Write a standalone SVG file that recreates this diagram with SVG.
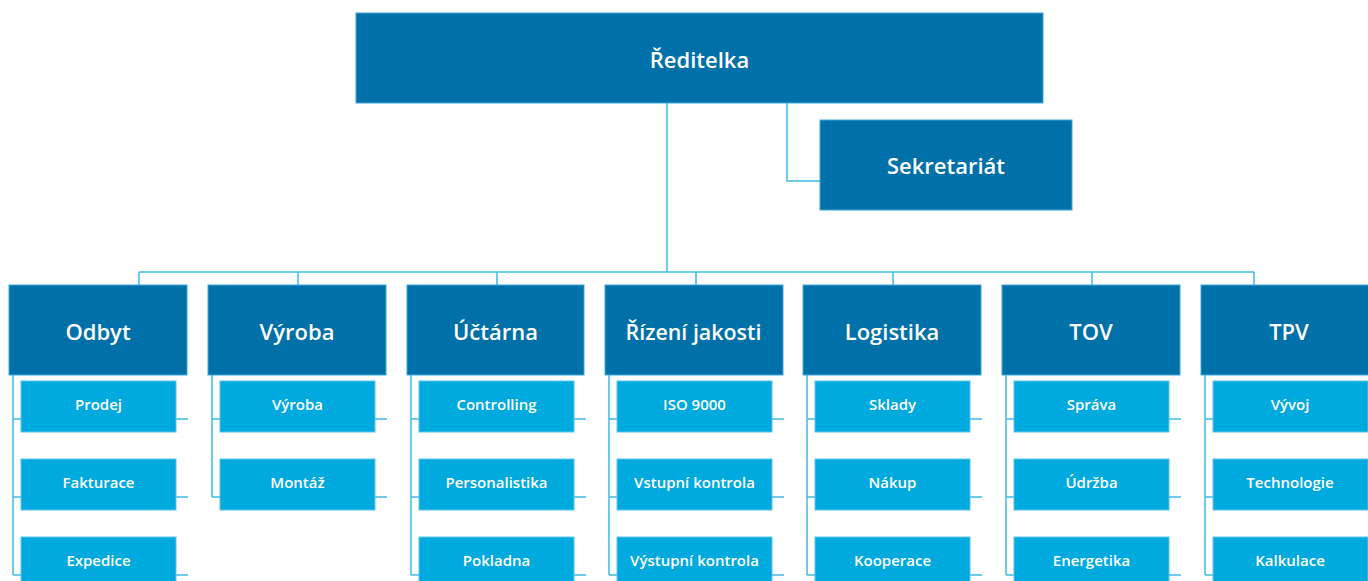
<svg xmlns="http://www.w3.org/2000/svg" width="1368" height="581" viewBox="0 0 1368 581">
  <style>
    .head { fill: #0070a8; stroke: #3fa9d8; stroke-width: 1; }
    .sub { fill: #00a9de; stroke: #5cc4ea; stroke-width: 1; }
    .lbl { fill: #ffffff; font-family: "Open Sans", "Liberation Sans", sans-serif; font-weight: 600; text-anchor: middle; }
    .big { font-size: 22px; }
    .small { font-size: 15px; }
    .wire { fill: none; stroke: #3fbbe6; stroke-width: 1.5; }
  </style>
  <rect width="1368" height="581" fill="#ffffff"/>

  <!-- connectors -->
  <g id="connectors" class="wire">
    <path d="M667 103 V272"/>
    <path d="M787 103 V181 H820"/>
    <path d="M139 272 H1254"/>
    <path d="M139 272 V285 M298 272 V285 M497 272 V285 M696 272 V285 M893 272 V285 M1092 272 V285 M1254 272 V285"/>
    <!-- Odbyt -->
    <path d="M13 375 V575 M13 419 H21 M13 497 H21 M13 575 H21 M176 419 H188 M176 497 H188 M176 575 H188"/>
    <!-- Výroba -->
    <path d="M212 375 V497 M212 419 H220 M212 497 H220 M375 419 H387 M375 497 H387"/>
    <!-- Účtárna -->
    <path d="M411 375 V575 M411 419 H419 M411 497 H419 M411 575 H419 M574 419 H586 M574 497 H586 M574 575 H586"/>
    <!-- Řízení jakosti -->
    <path d="M609 375 V575 M609 419 H617 M609 497 H617 M609 575 H617 M772 419 H784 M772 497 H784 M772 575 H784"/>
    <!-- Logistika -->
    <path d="M807 375 V575 M807 419 H815 M807 497 H815 M807 575 H815 M970 419 H982 M970 497 H982 M970 575 H982"/>
    <!-- TOV -->
    <path d="M1006 375 V575 M1006 419 H1014 M1006 497 H1014 M1006 575 H1014 M1169 419 H1181 M1169 497 H1181 M1169 575 H1181"/>
    <!-- TPV -->
    <path d="M1205 375 V575 M1205 419 H1213 M1205 497 H1213 M1205 575 H1213"/>
  </g>

  <!-- top level -->
  <g id="reditelka">
    <rect class="head" x="356" y="13" width="687" height="90"/>
    <text class="lbl big" x="699.5" y="68">Ředitelka</text>
  </g>
  <g id="sekretariat">
    <rect class="head" x="820" y="120" width="252" height="90"/>
    <text class="lbl big" x="946" y="174">Sekretariát</text>
  </g>

  <!-- departments -->
  <g id="odbyt">
    <rect class="head" x="9" y="285" width="178" height="90"/>
    <text class="lbl big" x="98" y="340">Odbyt</text>
    <rect class="sub" x="21" y="381" width="155" height="51"/>
    <text class="lbl small" x="98.5" y="410">Prodej</text>
    <rect class="sub" x="21" y="459" width="155" height="51"/>
    <text class="lbl small" x="98.5" y="488">Fakturace</text>
    <rect class="sub" x="21" y="537" width="155" height="51"/>
    <text class="lbl small" x="98.5" y="566">Expedice</text>
  </g>

  <g id="vyroba">
    <rect class="head" x="208" y="285" width="178" height="90"/>
    <text class="lbl big" x="297" y="340">Výroba</text>
    <rect class="sub" x="220" y="381" width="155" height="51"/>
    <text class="lbl small" x="297.5" y="410">Výroba</text>
    <rect class="sub" x="220" y="459" width="155" height="51"/>
    <text class="lbl small" x="297.5" y="488">Montáž</text>
  </g>

  <g id="uctarna">
    <rect class="head" x="407" y="285" width="177" height="90"/>
    <text class="lbl big" x="495.5" y="340">Účtárna</text>
    <rect class="sub" x="419" y="381" width="155" height="51"/>
    <text class="lbl small" x="496.5" y="410">Controlling</text>
    <rect class="sub" x="419" y="459" width="155" height="51"/>
    <text class="lbl small" x="496.5" y="488">Personalistika</text>
    <rect class="sub" x="419" y="537" width="155" height="51"/>
    <text class="lbl small" x="496.5" y="566">Pokladna</text>
  </g>

  <g id="rizeni-jakosti">
    <rect class="head" x="605" y="285" width="178" height="90"/>
    <text class="lbl big" x="693.5" y="340" textLength="136" lengthAdjust="spacingAndGlyphs">Řízení jakosti</text>
    <rect class="sub" x="617" y="381" width="155" height="51"/>
    <text class="lbl small" x="694.5" y="410">ISO 9000</text>
    <rect class="sub" x="617" y="459" width="155" height="51"/>
    <text class="lbl small" x="694.5" y="488">Vstupní kontrola</text>
    <rect class="sub" x="617" y="537" width="155" height="51"/>
    <text class="lbl small" x="694.5" y="566">Výstupní kontrola</text>
  </g>

  <g id="logistika">
    <rect class="head" x="803" y="285" width="178" height="90"/>
    <text class="lbl big" x="892" y="340">Logistika</text>
    <rect class="sub" x="815" y="381" width="155" height="51"/>
    <text class="lbl small" x="892.5" y="410">Sklady</text>
    <rect class="sub" x="815" y="459" width="155" height="51"/>
    <text class="lbl small" x="892.5" y="488">Nákup</text>
    <rect class="sub" x="815" y="537" width="155" height="51"/>
    <text class="lbl small" x="892.5" y="566">Kooperace</text>
  </g>

  <g id="tov">
    <rect class="head" x="1002" y="285" width="178" height="90"/>
    <text class="lbl big" x="1091" y="340">TOV</text>
    <rect class="sub" x="1014" y="381" width="155" height="51"/>
    <text class="lbl small" x="1091.5" y="410">Správa</text>
    <rect class="sub" x="1014" y="459" width="155" height="51"/>
    <text class="lbl small" x="1091.5" y="488">Údržba</text>
    <rect class="sub" x="1014" y="537" width="155" height="51"/>
    <text class="lbl small" x="1091.5" y="566">Energetika</text>
  </g>

  <g id="tpv">
    <rect class="head" x="1201" y="285" width="178" height="90"/>
    <text class="lbl big" x="1289" y="340">TPV</text>
    <rect class="sub" x="1213" y="381" width="155" height="51"/>
    <text class="lbl small" x="1290" y="410">Vývoj</text>
    <rect class="sub" x="1213" y="459" width="155" height="51"/>
    <text class="lbl small" x="1290" y="488">Technologie</text>
    <rect class="sub" x="1213" y="537" width="155" height="51"/>
    <text class="lbl small" x="1290" y="566">Kalkulace</text>
  </g>
</svg>
